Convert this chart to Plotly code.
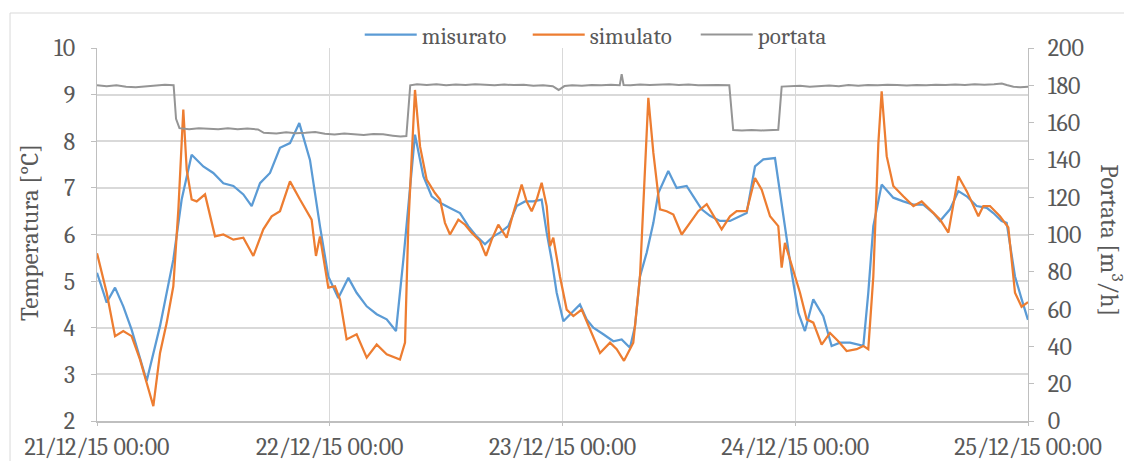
import pandas as pd
import plotly.graph_objects as go

# ---------------- data (hours from 21/12/15 00:00) ----------------
mis_hours = [0.0, 1.0, 1.86, 2.71, 3.57, 5.12, 6.5, 7.87, 8.73, 9.76, 10.96, 11.99, 13.03, 14.06,
             15.09, 15.95, 16.81, 17.84, 18.87, 19.9, 20.86, 21.96, 22.99, 23.85, 24.88, 25.92,
             26.77, 27.81, 28.84, 29.87, 30.83, 31.59, 32.79, 33.65, 34.51, 35.37, 36.4, 37.43,
             38.29, 39.15, 40.01, 40.87, 41.55, 42.41, 43.27, 44.13, 44.99, 45.85, 46.37, 46.88,
             47.4, 48.09, 48.95, 49.8, 50.49, 51.18, 52.21, 53.24, 54.1, 54.96, 55.48, 55.99,
             56.68, 57.37, 57.88, 58.91, 59.77, 60.8, 61.49, 62.35, 63.21, 64.24, 65.27, 66.3,
             66.99, 67.85, 68.71, 69.91, 70.43, 71.11, 71.63, 72.32, 73.0, 73.86, 74.89, 75.75,
             76.61, 77.65, 79.02, 79.53, 80.05, 80.91, 82.11, 83.14, 84.18, 85.21, 86.24, 86.93,
             87.96, 88.82, 89.68, 90.71, 91.74, 92.43, 93.28, 93.8, 94.66, 95.35, 96.0]
misurato = [5.18, 4.54, 4.86, 4.46, 3.96, 2.86, 4.04, 5.46, 6.75, 7.71, 7.46, 7.32, 7.1, 7.04,
            6.86, 6.61, 7.1, 7.32, 7.86, 7.96, 8.39, 7.6, 6.18, 5.1, 4.64, 5.07,
            4.75, 4.46, 4.29, 4.18, 3.93, 5.46, 8.14, 7.25, 6.82, 6.68, 6.57, 6.46,
            6.18, 5.96, 5.79, 5.96, 6.04, 6.18, 6.61, 6.71, 6.71, 6.75, 6.04, 5.46,
            4.75, 4.14, 4.32, 4.5, 4.18, 4.0, 3.86, 3.71, 3.75, 3.57, 4.04, 5.1,
            5.61, 6.25, 6.89, 7.36, 7.0, 7.04, 6.82, 6.54, 6.4, 6.29, 6.29, 6.39,
            6.46, 7.46, 7.61, 7.64, 6.89, 5.89, 5.18, 4.32, 3.93, 4.61, 4.25, 3.61,
            3.68, 3.68, 3.61, 4.75, 6.18, 7.07, 6.79, 6.71, 6.64, 6.64, 6.46, 6.29,
            6.54, 6.93, 6.82, 6.61, 6.57, 6.46, 6.29, 6.25, 5.1, 4.61, 4.17]

sim_hours = [0.0, 1.0, 1.86, 2.71, 3.57, 4.43, 5.12, 5.81, 6.5, 7.18, 7.87, 8.39, 8.9, 9.25,
             9.76, 10.28, 11.14, 12.17, 13.03, 14.06, 15.09, 16.12, 17.15, 18.01, 18.87, 19.9,
             20.93, 22.13, 22.58, 22.99, 23.85, 24.54, 25.06, 25.74, 26.77, 27.81, 28.84, 29.87,
             31.24, 31.76, 32.1, 32.79, 33.31, 33.99, 34.85, 35.37, 35.88, 36.4, 37.26, 37.95,
             38.63, 39.49, 40.11, 40.7, 41.38, 42.24, 42.93, 43.79, 44.3, 44.82, 45.34, 45.85,
             46.37, 46.71, 47.05, 47.74, 48.43, 49.12, 49.98, 50.84, 51.87, 52.9, 53.59, 54.34,
             55.3, 55.99, 56.51, 56.85, 57.37, 58.05, 58.74, 59.43, 60.29, 61.15, 62.0, 62.87,
             63.72, 64.41, 65.27, 65.96, 66.99, 67.85, 68.54, 69.4, 70.25, 70.6, 70.94, 71.8,
             72.49, 73.18, 73.86, 74.72, 75.58, 76.44, 77.3, 78.33, 79.02, 79.53, 80.05, 80.57,
             80.91, 81.43, 82.11, 83.14, 84.18, 85.04, 86.07, 86.93, 87.79, 88.82, 89.68, 90.88,
             91.39, 92.08, 93.11, 93.97, 94.66, 95.34, 96.0]
simulato = [5.6, 4.75, 3.82, 3.93, 3.82, 3.32, 2.82, 2.32, 3.46, 4.1, 4.89, 6.54, 8.68, 7.39,
            6.75, 6.71, 6.86, 5.96, 6.0, 5.89, 5.93, 5.54, 6.11, 6.39, 6.5, 7.14,
            6.75, 6.32, 5.54, 5.96, 4.86, 4.89, 4.6, 3.75, 3.86, 3.36, 3.64, 3.43,
            3.32, 3.68, 6.18, 9.1, 7.89, 7.18, 6.89, 6.75, 6.25, 6.0, 6.32, 6.21,
            6.04, 5.86, 5.54, 5.89, 6.21, 5.93, 6.46, 7.07, 6.71, 6.5, 6.75, 7.11,
            6.61, 5.75, 5.93, 5.1, 4.39, 4.25, 4.39, 3.96, 3.46, 3.68, 3.54, 3.29,
            3.68, 5.1, 7.61, 8.93, 7.75, 6.54, 6.5, 6.43, 6.0, 6.25, 6.5, 6.65,
            6.36, 6.11, 6.39, 6.5, 6.5, 7.21, 6.96, 6.39, 6.18, 5.29, 5.82, 5.25,
            4.75, 4.18, 4.11, 3.64, 3.89, 3.71, 3.5, 3.54, 3.61, 3.54, 5.1, 7.96,
            9.07, 7.68, 7.04, 6.82, 6.61, 6.71, 6.5, 6.32, 6.04, 7.25, 6.93, 6.39,
            6.61, 6.61, 6.39, 6.15, 4.75, 4.45, 4.55]

por_hours = [0, 1, 2, 3, 4, 5, 6, 7, 7.9, 8.15, 8.5, 9.5, 10.5, 11.5, 12.5, 13.5, 14.5, 15.5,
             16.6, 17.2, 18.5, 19.5, 20.5, 21.5, 22.5, 23.5, 24.5, 25.5, 26.5, 27.5, 28.5, 29.5,
             30.5, 31.3, 31.9, 32.3, 33, 34, 35, 36, 37, 38, 39, 40, 41, 42, 43, 44, 45, 46,
             47, 47.6, 48.2, 49, 50, 51, 52, 53, 53.9, 54.1, 54.3, 55, 56, 57, 58, 59, 60, 61,
             62, 63, 64, 65.2, 65.6, 66.5, 67.5, 68.5, 69.5, 70.25, 70.6, 71.5, 72.5, 73.5, 74.5,
             75.5, 76.5, 77.5, 78.5, 79.5, 80.5, 81.5, 82.5, 83.5, 84.5, 85.5, 86.5, 87.5, 88.5,
             89.5, 90.5, 91.5, 92.5, 93.3, 93.8, 94.5, 95.2, 96]
portata = [180, 179.5, 180, 179.2, 179, 179.5, 180, 180.3, 180, 162, 157, 156.5, 157, 156.7,
           156.5, 157, 156.4, 156.8, 156.3, 154.5, 154.2, 154.8, 154.3, 154.5, 154.9, 154, 153.6,
           154.1, 153.8, 153.4, 153.9, 153.7, 153, 152.5, 152.8, 180, 180.5, 180.2, 180.6, 180,
           180.4, 180.1, 180.5, 180.2, 180, 180.4, 180.1, 180.3, 179.8, 180, 179.5, 177.5, 179.6,
           180, 179.8, 180.2, 180, 180.3, 180, 186, 180.2, 180, 180.4, 180.1, 180.3, 180.5, 180.2,
           180.4, 180, 180.3, 180.2, 180, 156, 155.7, 156, 155.8, 156, 156.2, 179.3, 179.5,
           179.8, 179.2, 179.6, 179.9, 179.5, 180.1, 179.8, 180.2, 180, 180.3, 180.1, 179.9,
           180.2, 180, 180.3, 180.1, 180.4, 180.2, 180.5, 180.3, 180.6, 181, 180.2, 179.2,
           179, 179.2]

day_ticks = ["2015-12-21", "2015-12-22", "2015-12-23", "2015-12-24", "2015-12-25"]
day_labels = ["21/12/15 00:00", "22/12/15 00:00", "23/12/15 00:00", "24/12/15 00:00",
              "25/12/15 00:00"]

base = pd.Timestamp("2015-12-21 00:00")
to_t = lambda hs: [base + pd.Timedelta(hours=h) for h in hs]

FONT = "Cambria"
TXT = "#595959"
GRID = "#d9d9d9"
AX = "#bfbfbf"
FS = 24

fig = go.Figure()
fig.add_trace(go.Scatter(x=to_t(mis_hours), y=misurato, name="misurato", mode="lines",
                         line=dict(color="#5B9BD5", width=2.25)))
fig.add_trace(go.Scatter(x=to_t(sim_hours), y=simulato, name="simulato", mode="lines",
                         line=dict(color="#ED7D31", width=2.25)))
fig.add_trace(go.Scatter(x=to_t(por_hours), y=portata, name="portata", mode="lines",
                         yaxis="y2", line=dict(color="#959595", width=2)))

fig.update_layout(
    width=1124, height=453,
    margin=dict(l=89, r=104, t=40, b=40, autoexpand=False),
    paper_bgcolor="white", plot_bgcolor="white",
    font=dict(family=FONT, size=FS, color=TXT),
    showlegend=True,
    legend=dict(orientation="h", x=0.2822, xanchor="left", y=1.036, yanchor="middle",
                font=dict(family=FONT, size=23, color=TXT), itemwidth=52,
                entrywidth=101, entrywidthmode="pixels",
                bgcolor="rgba(0,0,0,0)", traceorder="normal"),
    xaxis=dict(type="date", range=[day_ticks[0], day_ticks[-1]],
               tickvals=day_ticks, ticktext=day_labels, automargin=False,
               showgrid=True, gridcolor=GRID, gridwidth=1,
               showline=True, linecolor=AX, linewidth=2,
               ticks="outside", ticklen=3, tickcolor=AX,
               tickfont=dict(family=FONT, size=FS, color=TXT), zeroline=False),
    yaxis=dict(range=[2, 10], dtick=1, tick0=2, showgrid=True, gridcolor=GRID, gridwidth=1.5,
               showline=True, linecolor=AX, linewidth=1, automargin=False,
               ticks="outside", ticklen=5, tickcolor=AX, ticklabelstandoff=11,
               tickfont=dict(family=FONT, size=FS, color=TXT), zeroline=False),
    yaxis2=dict(range=[0, 200], dtick=20, tick0=0, overlaying="y", side="right",
                showgrid=False, showline=True, linecolor=AX, linewidth=1, automargin=False,
                ticks="outside", ticklen=5, tickcolor=AX, ticklabelstandoff=9,
                tickfont=dict(family=FONT, size=FS, color=TXT), zeroline=False),
    annotations=[
        dict(text="Temperatura [°C]", xref="paper", yref="paper", x=-0.073, y=0.504,
             textangle=-90, showarrow=False, xanchor="center", yanchor="middle",
             font=dict(family=FONT, size=25, color=TXT)),
        dict(text="Portata [m<sup>3</sup>/h]", xref="paper", yref="paper", x=1.09, y=0.485,
             textangle=90, showarrow=False, xanchor="center", yanchor="middle",
             font=dict(family=FONT, size=25, color=TXT)),
    ],
    shapes=[dict(type="rect", xref="paper", yref="paper", x0=-0.0934, x1=1.2, y0=-0.3,
                 y1=1.0938, line=dict(color=GRID, width=1), fillcolor="rgba(0,0,0,0)",
                 layer="below")],
)

fig.write_html("out.html")
